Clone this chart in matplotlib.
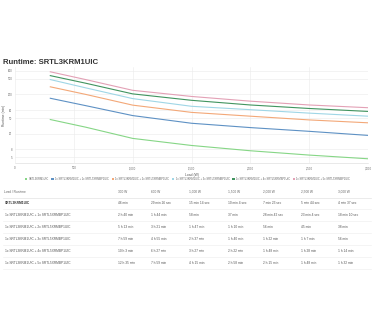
import matplotlib
matplotlib.use("Agg")
import matplotlib.pyplot as plt
from matplotlib.patches import Patch
from matplotlib.lines import Line2D

plt.rcParams["font.family"] = ["Liberation Sans", "DejaVu Sans"]

loads = [300, 600, 1000, 1500, 2000, 2500, 3000]
load_labels = ["300 W", "600 W", "1,000 W", "1,500 W", "2,000 W", "2,500 W", "3,000 W"]

row_names = [
    "SRTL3KRM1UIC",
    "1x SRTL3KRM1UIC + 1x SRTL5XRMBP1UIC",
    "1x SRTL3KRM1UIC + 2x SRTL5XRMBP1UIC",
    "1x SRTL3KRM1UIC + 3x SRTL5XRMBP1UIC",
    "1x SRTL3KRM1UIC + 4x SRTL5XRMBP1UIC",
    "1x SRTL3KRM1UIC + 5x SRTL5XRMBP1UIC",
]

base = ["46 min", "29 min 26 sec", "15 min 14 sec", "10 min 4 sec", "7 min 23 sec", "5 min 44 sec", "4 min 37 sec"]
ext1 = ["2 h 40 min", "1 h 44 min", "58 min", "37 min", "28 min 42 sec", "23 min 4 sec", "18 min 10 sec"]
ext2 = ["5 h 13 min", "3 h 21 min", "1 h 47 min", "1 h 10 min", "56 min", "45 min", "38 min"]
ext3 = ["7 h 59 min", "4 h 55 min", "2 h 37 min", "1 h 40 min", "1 h 22 min", "1 h 7 min", "56 min"]
ext4 = ["10 h 3 min", "6 h 27 min", "3 h 27 min", "2 h 22 min", "1 h 48 min", "1 h 28 min", "1 h 14 min"]
ext5 = ["12 h 35 min", "7 h 59 min", "4 h 15 min", "2 h 58 min", "2 h 15 min", "1 h 48 min", "1 h 32 min"]
rows = [base, ext1, ext2, ext3, ext4, ext5]

colors = ["#86d686", "#5e91c4", "#f3a878", "#9fd6e6", "#41945f", "#e3a1b6"]

y_ticks = [5, 8, 20, 50, 80, 200, 500, 800]
x_ticks = [0, 500, 1000, 1500, 2000, 2500, 3000]


def to_minutes(s):
    parts = s.split()
    total = 0.0
    for val, unit in zip(parts[::2], parts[1::2]):
        v = float(val)
        if unit == "h":
            total += v * 60
        elif unit == "min":
            total += v
        else:
            total += v / 60
    return total


W, H = 374, 326
fig = plt.figure(figsize=(W / 100, H / 100), dpi=100)


def fx(px):
    return px / W


def fy(px):
    return 1 - px / H


ax = fig.add_axes([fx(15), fy(163.3), fx(368) - fx(15), fy(67) - fy(163.3)])
for name, row, c in zip(row_names, rows, colors):
    ax.plot(loads, [to_minutes(s) for s in row], color=c, lw=0.8, label=name)

ax.set_yscale("log")
ax.set_ylim(3.54, 1000)
ax.set_xlim(0, 3000)
ax.set_yticks(y_ticks)
ax.set_yticklabels([str(t) for t in y_ticks])
ax.yaxis.set_minor_locator(matplotlib.ticker.NullLocator())
ax.set_xticks(x_ticks)
ax.set_xticklabels(["{:,}".format(t) for t in x_ticks])
ax.tick_params(labelsize=2.0, colors="#666666", length=0, pad=2)
ax.grid(True, color="#ebebeb", lw=0.4)
ax.set_axisbelow(True)
for sp in ax.spines.values():
    sp.set_visible(False)
ax.spines["bottom"].set_visible(True)
ax.spines["bottom"].set_color("#d9d9d9")
ax.spines["bottom"].set_linewidth(0.4)
ax.set_xlabel("Load (W)", fontsize=2.4, color="#555555", labelpad=2)
fig.text(fx(4.5), fy(115), "Runtime (min)", fontsize=2.4, color="#555555",
         rotation=90, ha="center", va="center")

fig.text(fx(3), fy(62), "Runtime: SRTL3KRM1UIC", fontsize=5.6, fontweight="bold",
         color="#333333", va="center", ha="left")

handles = [Patch(facecolor=c, edgecolor="none") for c in colors]
fig.legend(handles, row_names, loc="center", bbox_to_anchor=(fx(187.5), fy(179)), ncol=6,
           fontsize=1.9, frameon=False, handlelength=0.9, handleheight=0.9,
           columnspacing=1.0, handletextpad=0.5, labelcolor="#666666")

# table under the chart
col_x = [118, 151, 189, 228, 263, 301, 338]
fig.text(fx(4), fy(191.7), "Load / Runtime", fontsize=2.3, color="#666666", va="center")
for x, lab in zip(col_x, load_labels):
    fig.text(fx(x), fy(191.7), lab, fontsize=2.3, color="#666666", va="center")
fig.add_artist(Line2D([fx(3), fx(371)], [fy(198), fy(198)], color="#e3e3e3", lw=0.5))

row_y = [203.3, 215, 226.8, 238.7, 250.7, 262.7]
for i, (name, row, yy) in enumerate(zip(row_names, rows, row_y)):
    fig.text(fx(5), fy(yy), name, fontsize=2.3, color="#333333" if i == 0 else "#555555",
             va="center", fontweight="bold" if i == 0 else "normal")
    for x, s in zip(col_x, row):
        fig.text(fx(x), fy(yy), s, fontsize=2.3, color="#555555", va="center")
    fig.add_artist(Line2D([fx(3), fx(371)], [fy(yy + 6), fy(yy + 6)], color="#ececec", lw=0.4))

fig.savefig("out.png", dpi=100)
